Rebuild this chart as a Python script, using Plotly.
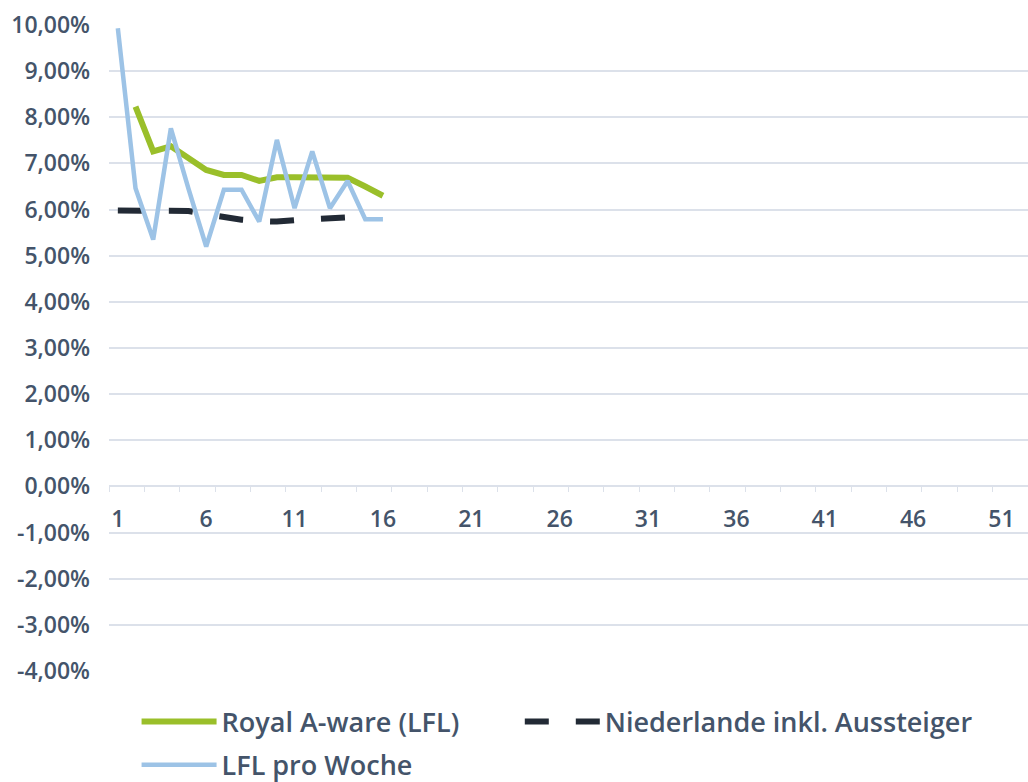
import plotly.graph_objects as go

weeks = list(range(1, 17))
royal_a_ware = [None, 8.23, 7.26, 7.37, 7.11, 6.86, 6.75, 6.75, 6.62, 6.70, 6.70, 6.70, 6.69, 6.69, 6.50, 6.30]
niederlande = [5.98, 5.98, 5.98, 5.98, 5.97, 5.90, 5.83, 5.78, 5.75, 5.74, 5.77, 5.79, 5.81, 5.83, None, None]
lfl_pro_woche = [9.93, 6.46, 5.35, 7.76, 6.45, 5.20, 6.43, 6.43, 5.74, 7.51, 6.03, 7.26, 6.03, 6.62, 5.79, 5.79]

y_ticks = list(range(-4, 11))
y_tick_text = [f"{v},00%" for v in y_ticks]
x_tick_vals = list(range(1, 52, 5))
x_tick_text = [str(v) for v in x_tick_vals]

TEXT = "#44546A"
GRID = "#DCE1EA"
FONT = "Open Sans"

fig = go.Figure()
fig.add_trace(go.Scatter(x=weeks, y=royal_a_ware, mode="lines", name="Royal A-ware (LFL)",
                         line=dict(color="#9ABF2A", width=6), legend="legend"))
fig.add_trace(go.Scatter(x=weeks, y=niederlande, mode="lines", name="Niederlande inkl. Aussteiger",
                         line=dict(color="#222A35", width=6, dash="24px,27px"), legend="legend3"))
fig.add_trace(go.Scatter(x=weeks, y=lfl_pro_woche, mode="lines", name="LFL pro Woche",
                         line=dict(color="#9DC3E6", width=4.5), legend="legend2"))

y_lo, y_hi = -4, 10
legend_font = dict(size=27, color=TEXT, family=FONT, weight=600)
common_leg = dict(orientation="h", xanchor="left", yanchor="middle", itemwidth=75,
                  font=legend_font, bgcolor="rgba(0,0,0,0)")
fig.update_layout(
    width=1028, height=782,
    margin=dict(l=109, r=0, t=25, b=111, autoexpand=False),
    paper_bgcolor="white", plot_bgcolor="white",
    font=dict(family=FONT, color=TEXT, size=23, weight=600),
    showlegend=True,
    legend=dict(x=0.03, y=-0.079, **common_leg),
    legend3=dict(x=0.447, y=-0.079, **common_leg),
    legend2=dict(x=0.03, y=-0.146, **common_leg),
    xaxis=dict(range=[0.5, 52.5], anchor="free", position=(0 - y_lo) / (y_hi - y_lo),
               tickmode="array", tickvals=x_tick_vals, ticktext=x_tick_text,
               ticks="", showgrid=False, zeroline=False,
               showline=True, linecolor=GRID, linewidth=1.5,
               minor=dict(tick0=0.5, dtick=2, ticks="outside", ticklen=5, tickcolor=GRID, showgrid=False),
               tickfont=dict(size=23, color=TEXT), ticklabelstandoff=12),
    yaxis=dict(range=[y_lo, y_hi], tickmode="array", tickvals=y_ticks, ticktext=y_tick_text,
               showgrid=True, gridcolor=GRID, gridwidth=1.5, zeroline=False, showline=False,
               ticks="", tickfont=dict(size=23, color=TEXT), ticklabelstandoff=18),
)

fig.write_html("out.html", config={"displayModeBar": False},
               post_script="document.body.style.margin='0px';")
